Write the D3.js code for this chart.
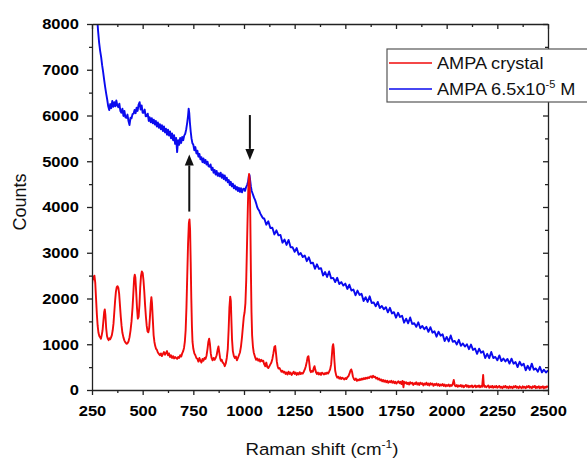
<!DOCTYPE html>
<html><head><meta charset="utf-8">
<script src="https://cdn.jsdelivr.net/npm/d3@7/dist/d3.min.js"></script>
<style>body{margin:0;background:#fff}svg{display:block}</style>
</head><body>
<script>
// ---------- data ----------
const xTickValues = [250,500,750,1000,1250,1500,1750,2000,2250,2500];
const xMinorValues = [375,625,875,1125,1375,1625,1875,2125,2375];
const yTickValues = [0,1000,2000,3000,4000,5000,6000,7000,8000];
const yMinorValues = [500,1500,2500,3500,4500,5500,6500,7500];
const seriesNames = ["AMPA crystal","AMPA 6.5x10","-5"," M"];
const xTitle = ["Raman shift (cm","-1",")"];
const yTitle = "Counts";
const arrowUp = [730, 3900, 5150];    // x, from, to
const arrowDown = [1029, 6010, 5030];

// AMPA crystal [Raman shift, counts]
const crystal = [
[250,2300],[254,2480],[258,2420],[262,2500],[266,2350],[270,2000],[274,1650],[278,1400],[282,1250],[286,1180],[290,1150],[294,1120],[298,1200],[302,1300],[306,1500],[310,1700],[313,1760],[316,1650],[320,1350],[324,1180],[328,1120],[332,1090],[336,1130],[340,1110],[344,1150],[348,1200],[352,1300],[356,1450],[360,1700],[364,1950],[368,2150],[372,2250],[376,2270],[380,2230],[384,2100],[388,1850],[392,1600],[396,1400],[400,1250],[405,1150],[410,1080],[415,1040],[420,1010],[425,1020],[430,1060],[435,1150],[440,1300],[445,1500],[450,1800],[455,2200],[458,2450],[461,2520],[464,2460],[468,2150],[472,1800],[476,1560],[480,1600],[484,1850],[488,2250],[492,2500],[496,2590],[500,2560],[504,2400],[508,2150],[512,1850],[516,1600],[520,1400],[524,1280],[528,1260],[532,1350],[536,1600],[540,1900],[543,2030],[546,1900],[550,1550],[554,1200],[558,1050],[562,960],[566,900],[570,880],[575,820],[580,790],[585,760],[590,800],[595,740],[600,790],[605,830],[610,770],[615,810],[620,850],[625,760],[630,800],[635,720],[640,760],[645,700],[650,740],[655,690],[660,720],[665,700],[670,680],[675,720],[680,700],[685,760],[690,730],[695,800],[700,850],[704,920],[708,1050],[712,1300],[716,1800],[720,2500],[724,3200],[728,3650],[731,3730],[734,3500],[737,2800],[740,2000],[743,1400],[746,1050],[750,900],[755,800],[760,760],[765,700],[770,680],[775,620],[780,700],[785,640],[790,600],[795,680],[800,640],[805,700],[810,680],[815,750],[820,900],[824,1050],[828,1120],[832,1000],[836,800],[840,700],[845,650],[850,700],[855,660],[860,700],[865,760],[870,880],[874,950],[878,820],[882,700],[886,640],[890,660],[895,600],[900,580],[905,520],[910,580],[915,700],[920,900],[924,1300],[928,1800],[932,2040],[935,1950],[938,1500],[941,1100],[945,850],[950,740],[955,700],[960,730],[965,650],[970,700],[975,760],[980,820],[985,950],[990,1150],[995,1400],[999,1600],[1003,1700],[1007,1900],[1011,2400],[1015,3200],[1019,4000],[1022,4500],[1025,4720],[1028,4600],[1031,3800],[1034,2600],[1037,1700],[1040,1200],[1044,950],[1048,820],[1052,760],[1056,700],[1060,660],[1065,690],[1070,640],[1075,670],[1080,620],[1085,660],[1090,630],[1095,640],[1100,560],[1105,520],[1110,600],[1115,500],[1120,480],[1125,520],[1130,560],[1135,600],[1140,680],[1145,800],[1150,940],[1154,960],[1158,800],[1162,620],[1166,520],[1170,470],[1175,480],[1180,440],[1185,400],[1190,420],[1195,380],[1200,400],[1205,350],[1210,380],[1215,340],[1220,400],[1225,350],[1230,380],[1235,330],[1240,360],[1245,400],[1250,350],[1255,380],[1260,330],[1265,370],[1270,340],[1275,390],[1280,350],[1285,370],[1290,360],[1295,400],[1300,450],[1305,520],[1310,620],[1314,720],[1318,740],[1322,600],[1326,430],[1330,390],[1335,420],[1340,400],[1344,480],[1348,520],[1352,440],[1356,380],[1360,350],[1365,380],[1370,340],[1375,370],[1380,330],[1385,380],[1390,360],[1395,340],[1400,370],[1405,350],[1410,380],[1415,360],[1420,400],[1425,450],[1430,560],[1434,780],[1437,950],[1440,1000],[1443,900],[1446,650],[1450,420],[1455,320],[1460,270],[1465,290],[1470,250],[1475,280],[1480,240],[1485,270],[1490,250],[1495,230],[1500,260],[1505,240],[1510,280],[1515,300],[1520,350],[1525,420],[1529,450],[1533,400],[1537,300],[1542,240],[1547,220],[1552,250],[1557,200],[1562,230],[1567,210],[1572,240],[1577,220],[1582,250],[1587,230],[1592,260],[1597,240],[1602,270],[1607,250],[1612,280],[1617,260],[1622,290],[1627,300],[1632,270],[1637,310],[1642,280],[1647,290],[1652,250],[1657,270],[1662,230],[1667,250],[1672,210],[1677,230],[1682,190],[1687,220],[1692,180],[1697,210],[1702,170],[1707,200],[1712,160],[1717,190],[1722,170],[1727,200],[1732,160],[1737,190],[1742,150],[1747,180],[1752,140],[1757,170],[1762,190],[1767,150],[1772,180],[1777,130],[1782,200],[1787,60],[1790,180],[1795,150],[1800,170],[1805,130],[1810,160],[1815,120],[1820,170],[1825,140],[1830,160],[1835,110],[1840,150],[1845,130],[1850,170],[1855,120],[1860,150],[1865,110],[1870,160],[1875,130],[1880,150],[1885,100],[1890,140],[1895,120],[1900,160],[1905,110],[1910,140],[1915,100],[1920,150],[1925,120],[1930,140],[1935,90],[1940,130],[1945,110],[1950,140],[1955,100],[1960,130],[1965,90],[1970,120],[1975,100],[1980,130],[1985,90],[1990,120],[1995,80],[2000,110],[2005,90],[2010,120],[2015,80],[2020,110],[2025,90],[2030,130],[2035,220],[2040,100],[2045,80],[2050,110],[2055,70],[2060,100],[2065,80],[2070,110],[2075,70],[2080,100],[2085,60],[2090,90],[2095,110],[2100,70],[2105,100],[2110,60],[2115,90],[2120,70],[2125,100],[2130,60],[2135,80],[2140,100],[2145,60],[2150,90],[2155,70],[2160,100],[2165,60],[2170,90],[2175,70],[2180,330],[2183,120],[2186,70],[2190,90],[2195,60],[2200,80],[2205,100],[2210,50],[2215,80],[2220,60],[2225,90],[2230,50],[2235,80],[2240,60],[2245,90],[2250,50],[2255,70],[2260,90],[2265,50],[2270,70],[2275,40],[2280,80],[2285,60],[2290,90],[2295,50],[2300,70],[2305,40],[2310,80],[2315,50],[2320,70],[2325,40],[2330,80],[2335,60],[2340,90],[2345,50],[2350,70],[2355,40],[2360,80],[2365,60],[2370,40],[2375,80],[2380,50],[2385,70],[2390,40],[2395,80],[2400,60],[2405,90],[2410,50],[2415,70],[2420,40],[2425,80],[2430,60],[2435,90],[2440,40],[2445,70],[2450,50],[2455,80],[2460,40],[2465,70],[2470,50],[2475,80],[2480,40],[2485,70],[2490,50],[2495,80],[2500,60]
];

// AMPA 6.5x10^-5 M [Raman shift, counts]
const solution = [
[272,8600],[276,8100],[280,7850],[285,7600],[290,7420],[295,7280],[300,7100],[305,6950],[310,6780],[315,6620],[320,6480],[325,6350],[330,6200],[335,6120],[340,6250],[345,6160],[350,6320],[355,6190],[360,6290],[365,6200],[370,6330],[375,6220],[380,6180],[385,6260],[390,6100],[395,6060],[400,6150],[405,5990],[410,6100],[415,5960],[420,5950],[425,6020],[430,5880],[435,5790],[440,5950],[445,5940],[450,6030],[455,6040],[460,6120],[465,6050],[470,6170],[475,6100],[480,6240],[485,6290],[490,6130],[495,6220],[500,6060],[505,6060],[510,6130],[515,5980],[520,5990],[525,6040],[530,5880],[535,5960],[540,5850],[545,5940],[550,5830],[555,5910],[560,5800],[565,5880],[570,5760],[575,5850],[580,5730],[585,5810],[590,5700],[595,5790],[600,5660],[605,5760],[610,5630],[615,5710],[620,5580],[625,5690],[630,5560],[635,5650],[640,5500],[645,5610],[650,5460],[655,5570],[660,5380],[665,5510],[670,5200],[675,5460],[680,5360],[685,5510],[690,5400],[695,5530],[700,5460],[705,5560],[710,5600],[715,5700],[720,5850],[724,6000],[727,6150],[730,6050],[733,5850],[737,5650],[741,5500],[745,5400],[750,5360],[755,5240],[760,5310],[765,5170],[770,5230],[775,5100],[780,5160],[785,5040],[790,5090],[795,4980],[800,5060],[805,4960],[810,5030],[815,4930],[820,4990],[825,4890],[830,4880],[835,4930],[840,4810],[845,4860],[850,4750],[855,4810],[860,4710],[865,4790],[870,4680],[875,4740],[880,4670],[885,4750],[890,4640],[895,4710],[900,4610],[905,4690],[910,4580],[915,4640],[920,4540],[925,4590],[930,4480],[935,4550],[940,4450],[945,4510],[950,4410],[955,4470],[960,4380],[965,4440],[970,4350],[975,4420],[980,4330],[985,4410],[990,4320],[995,4390],[1000,4400],[1005,4350],[1010,4430],[1015,4480],[1020,4550],[1024,4680],[1027,4700],[1030,4600],[1034,4450],[1038,4350],[1042,4300],[1046,4250],[1050,4200],[1055,4150],[1060,4080],[1065,4000],[1070,3950],[1075,3920],[1080,3860],[1085,3820],[1090,3780],[1095,3750],
[1100,3750],[1110,3614],[1120,3688],[1130,3542],[1140,3546],[1150,3400],[1160,3490],[1170,3380],[1180,3390],[1190,3220],[1200,3290],[1210,3170],[1220,3280],[1230,3120],[1240,3120],[1250,3020],[1260,3104],[1270,2958],[1280,2992],[1290,2906],[1300,2940],[1310,2816],[1320,2902],[1330,2768],[1340,2784],[1350,2650],[1360,2748],[1370,2646],[1380,2664],[1390,2502],[1400,2580],[1410,2470],[1420,2590],[1430,2440],[1440,2450],[1450,2360],[1460,2453],[1470,2316],[1480,2359],[1490,2282],[1500,2325],[1510,2208],[1520,2301],[1530,2174],[1540,2197],[1550,2070],[1560,2174],[1570,2078],[1580,2102],[1590,1946],[1600,2030],[1610,1924],[1620,2048],[1630,1902],[1640,1916],[1650,1830],[1660,1926],[1670,1792],[1680,1838],[1690,1764],[1700,1810],[1710,1698],[1720,1796],[1730,1674],[1740,1702],[1750,1580],[1760,1688],[1770,1596],[1780,1624],[1790,1472],[1800,1560],[1810,1458],[1820,1586],[1830,1444],[1840,1462],[1850,1380],[1860,1480],[1870,1350],[1880,1400],[1890,1330],[1900,1380],[1910,1271],[1920,1372],[1930,1253],[1940,1284],[1950,1165],[1960,1276],[1970,1187],[1980,1218],[1990,1069],[2000,1160],[2010,1061],[2020,1192],[2030,1053],[2040,1074],[2050,995],[2060,1096],[2070,967],[2080,1018],[2090,949],[2100,1000],[2110,892],[2120,994],[2130,876],[2140,908],[2150,790],[2160,902],[2170,814],[2180,846],[2190,698],[2200,790],[2210,696],[2220,832],[2230,698],[2240,724],[2250,650],[2260,756],[2270,632],[2280,688],[2290,624],[2300,680],[2310,578],[2320,686],[2330,574],[2340,612],[2350,500],[2360,618],[2370,536],[2380,574],[2390,432],[2400,530],[2410,438],[2420,576],[2430,444],[2440,472],[2450,400],[2460,508],[2470,386],[2480,444],[2490,382],[2500,430]
];

// ---------- layout ----------
const W = 587, H = 460;
const m = {left:92, right:548, top:24, bottom:390};
const STRETCH = "scale(1.1,1)";
const colors = {crystal:"#f00a0a", solution:"#0a0aee", axis:"#222"};

const svg = d3.select("body").append("svg").attr("width",W).attr("height",H)
  .style("font-family","'Liberation Sans', Arial, sans-serif");

const x = d3.scaleLinear().domain([250,2500]).range([m.left,m.right]);
const y = d3.scaleLinear().domain([0,8000]).range([m.bottom,m.top]);

svg.append("clipPath").attr("id","clip").append("rect")
  .attr("x",m.left).attr("y",m.top).attr("width",m.right-m.left).attr("height",m.bottom-m.top);

const line = d3.line().x(d=>x(d[0])).y(d=>y(d[1]));
const plot = svg.append("g").attr("clip-path","url(#clip)");
plot.append("path").datum(solution).attr("d",line).attr("fill","none")
  .attr("stroke",colors.solution).attr("stroke-width",1.9).attr("stroke-linejoin","round");
plot.append("path").datum(crystal).attr("d",line).attr("fill","none")
  .attr("stroke",colors.crystal).attr("stroke-width",1.9).attr("stroke-linejoin","round");

// axes
function styleAxis(g){
  g.select(".domain").attr("stroke",colors.axis).attr("stroke-width",1.3);
  g.selectAll(".tick line").attr("stroke",colors.axis).attr("stroke-width",1.3);
}
const gx = svg.append("g").attr("transform",`translate(0,${m.bottom})`)
  .call(d3.axisBottom(x).tickValues(xTickValues).tickSize(5).tickSizeOuter(0).tickPadding(10).tickFormat(d3.format("d")));
gx.call(styleAxis);
gx.selectAll("text").attr("font-size",15).attr("font-weight","bold").attr("fill","#000").attr("transform",STRETCH);
svg.append("g").attr("transform",`translate(0,${m.bottom})`)
  .call(d3.axisBottom(x).tickValues(xMinorValues).tickSize(3).tickSizeOuter(0).tickFormat(""))
  .call(styleAxis).select(".domain").remove();

const gy = svg.append("g").attr("transform",`translate(${m.left},0)`)
  .call(d3.axisLeft(y).tickValues(yTickValues).tickSize(5).tickSizeOuter(0).tickPadding(7).tickFormat(d3.format("d")));
gy.call(styleAxis);
gy.selectAll("text").attr("font-size",15).attr("font-weight","bold").attr("fill","#000").attr("transform",STRETCH);
svg.append("g").attr("transform",`translate(${m.left},0)`)
  .call(d3.axisLeft(y).tickValues(yMinorValues).tickSize(3).tickSizeOuter(0).tickFormat(""))
  .call(styleAxis).select(".domain").remove();

// mirror axes (inward ticks)
svg.append("g").attr("transform",`translate(0,${m.top})`)
  .call(d3.axisTop(x).tickValues(xTickValues).tickSize(-5).tickSizeOuter(0).tickFormat(""))
  .call(styleAxis);
svg.append("g").attr("transform",`translate(0,${m.top})`)
  .call(d3.axisTop(x).tickValues(xMinorValues).tickSize(-3).tickSizeOuter(0).tickFormat(""))
  .call(styleAxis).select(".domain").remove();
svg.append("g").attr("transform",`translate(${m.right},0)`)
  .call(d3.axisRight(y).tickValues(yTickValues).tickSize(-5).tickSizeOuter(0).tickFormat(""))
  .call(styleAxis);
svg.append("g").attr("transform",`translate(${m.right},0)`)
  .call(d3.axisRight(y).tickValues(yMinorValues).tickSize(-3).tickSizeOuter(0).tickFormat(""))
  .call(styleAxis).select(".domain").remove();

// axis titles
const xt = svg.append("g").attr("transform",`translate(${(m.left+m.right)/2+2},455)`)
  .append("text").attr("text-anchor","middle").attr("font-size",17).attr("fill","#111").attr("transform",STRETCH);
xt.append("tspan").text(xTitle[0]);
xt.append("tspan").attr("font-size",11).attr("dy",-7).text(xTitle[1]);
xt.append("tspan").attr("dy",7).text(xTitle[2]);

svg.append("text").attr("transform","translate(26,202) rotate(-90)")
  .attr("text-anchor","middle").attr("font-size",18).attr("fill","#111").text(yTitle);

// arrows
function arrow(a){
  const xx = x(a[0]), y0 = y(a[1]), y1 = y(a[2]);
  const dir = y1 < y0 ? 1 : -1; // 1 = pointing up
  const headLen = 11, headW = 4.5;
  const base = y1 + dir*headLen;
  svg.append("line").attr("x1",xx).attr("x2",xx).attr("y1",y0).attr("y2",base)
    .attr("stroke","#111").attr("stroke-width",2);
  svg.append("path").attr("d",`M${xx},${y1}L${xx-headW},${base}L${xx+headW},${base}Z`).attr("fill","#111");
}
arrow(arrowUp);
arrow(arrowDown);

// legend
const lg = svg.append("g");
lg.append("rect").attr("x",387).attr("y",49).attr("width",210).attr("height",53)
  .attr("fill","#fff").attr("stroke","#555").attr("stroke-width",1.2);
lg.append("line").attr("x1",389).attr("x2",432).attr("y1",63).attr("y2",63)
  .attr("stroke",colors.crystal).attr("stroke-width",1.7);
lg.append("line").attr("x1",389).attr("x2",432).attr("y1",89).attr("y2",89)
  .attr("stroke",colors.solution).attr("stroke-width",1.7);
lg.append("g").attr("transform","translate(437,69)").append("text")
  .attr("font-size",16.5).attr("fill","#111").attr("transform",STRETCH).text(seriesNames[0]);
const lt = lg.append("g").attr("transform","translate(437,95)").append("text")
  .attr("font-size",16.5).attr("fill","#111").attr("transform",STRETCH);
lt.append("tspan").text(seriesNames[1]);
lt.append("tspan").attr("font-size",10).attr("dy",-7).text(seriesNames[2]);
lt.append("tspan").attr("dy",7).text(seriesNames[3]);
</script>
</body></html>
